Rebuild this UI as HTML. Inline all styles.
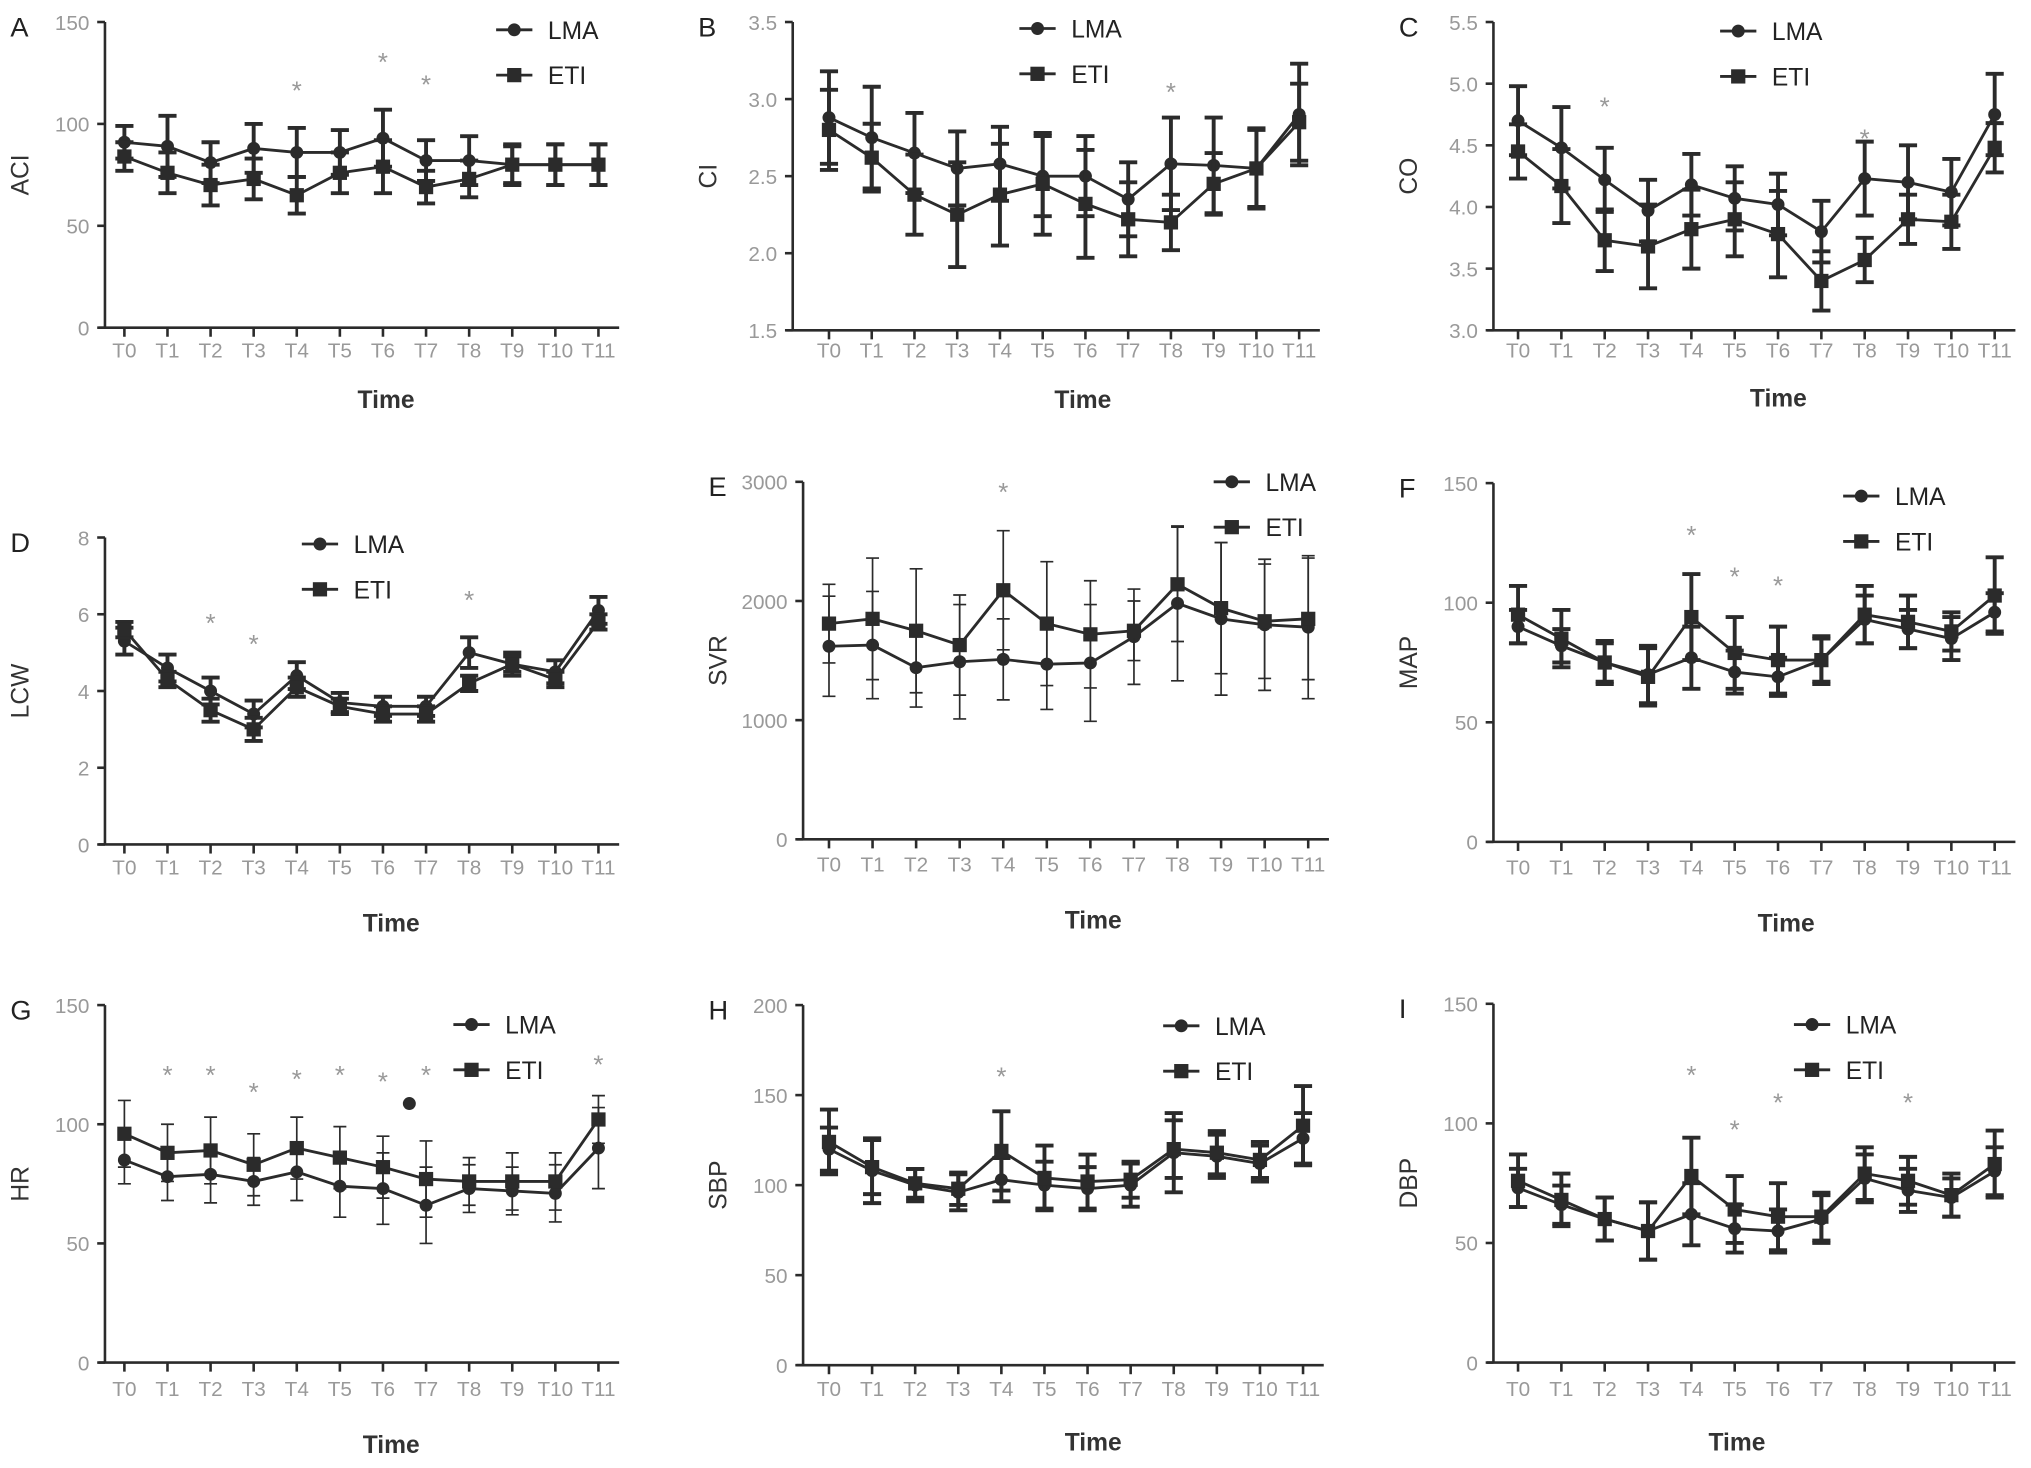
<!DOCTYPE html>
<html><head><meta charset="utf-8"><style>
html,body{margin:0;padding:0;background:#fff;}
svg{display:block;font-family:"Liberation Sans",sans-serif;}
</style></head><body>
<svg id="fig" width="2031" height="1468" viewBox="0 0 1568 1133.4" xmlns="http://www.w3.org/2000/svg"></svg>
<script>
const categories = ["T0","T1","T2","T3","T4","T5","T6","T7","T8","T9","T10","T11"];
const aciLma = [91,89,81,88,86,86,93,82,82,80,80,80];
const aciLmaErr = [8,15,10,12,12,11,14,10,12,9,10,10];
const aciEti = [84,76,70,73,65,76,79,69,73,80,80,80];
const aciEtiErr = [7,10,10,10,9,10,13,8,9,10,10,10];
const aciTicks = [0,50,100,150];
const ciLma = [2.88,2.75,2.65,2.55,2.58,2.5,2.5,2.35,2.58,2.57,2.55,2.9];
const ciLmaErr = [0.3,0.33,0.26,0.24,0.24,0.26,0.26,0.24,0.3,0.31,0.25,0.33];
const ciEti = [2.8,2.62,2.38,2.25,2.38,2.45,2.32,2.22,2.2,2.45,2.55,2.85];
const ciEtiErr = [0.26,0.22,0.26,0.34,0.33,0.33,0.35,0.24,0.18,0.2,0.26,0.25];
const ciTicks = [1.5,2.0,2.5,3.0,3.5];
const coLma = [4.7,4.48,4.22,3.97,4.18,4.07,4.02,3.8,4.23,4.2,4.12,4.75];
const coLmaErr = [0.28,0.33,0.26,0.25,0.25,0.26,0.25,0.25,0.3,0.3,0.27,0.33];
const coEti = [4.45,4.17,3.73,3.68,3.82,3.9,3.78,3.4,3.57,3.9,3.88,4.48];
const coEtiErr = [0.22,0.3,0.25,0.34,0.32,0.3,0.35,0.24,0.18,0.2,0.22,0.2];
const coTicks = [3.0,3.5,4.0,4.5,5.0,5.5];
const lcwLma = [5.3,4.6,4.0,3.4,4.4,3.7,3.6,3.6,5.0,4.7,4.5,6.1];
const lcwLmaErr = [0.35,0.35,0.35,0.35,0.35,0.25,0.25,0.25,0.4,0.3,0.3,0.35];
const lcwEti = [5.6,4.3,3.5,3.0,4.1,3.6,3.4,3.4,4.2,4.7,4.3,5.8];
const lcwEtiErr = [0.2,0.2,0.3,0.3,0.25,0.2,0.2,0.2,0.2,0.2,0.2,0.2];
const lcwTicks = [0,2,4,6,8];
const svrLma = [1620,1630,1440,1490,1510,1470,1480,1700,1980,1850,1800,1780];
const svrLmaErr = [420,450,330,480,340,380,490,400,650,640,550,600];
const svrEti = [1810,1850,1750,1630,2090,1810,1720,1750,2140,1940,1830,1850];
const svrEtiErr = [330,510,520,420,500,520,450,250,480,550,480,510];
const svrTicks = [0,1000,2000,3000];
const mapLma = [90,82,75,70,77,71,69,76,93,89,85,96];
const mapLmaErr = [7,7,8,12,13,9,8,9,10,8,9,8];
const mapEti = [95,85,75,69,94,79,76,76,95,92,88,103];
const mapEtiErr = [12,12,9,12,18,15,14,10,12,11,8,16];
const mapTicks = [0,50,100,150];
const hrLma = [85,78,79,76,80,74,73,66,73,72,71,90];
const hrLmaErr = [10,10,12,10,12,13,15,16,10,10,12,17];
const hrEti = [96,88,89,83,90,86,82,77,76,76,76,102];
const hrEtiErr = [14,12,14,13,13,13,13,16,10,12,12,10];
const hrTicks = [0,50,100,150];
const sbpLma = [120,108,100,96,103,100,98,100,118,116,112,126];
const sbpLmaErr = [12,18,9,10,12,13,12,12,22,12,10,14];
const sbpEti = [124,110,101,98,119,104,102,103,120,118,114,133];
const sbpEtiErr = [18,15,8,9,22,18,15,10,16,12,10,22];
const sbpTicks = [0,50,100,150,200];
const dbpLma = [73,66,60,55,62,56,55,60,77,72,69,80];
const dbpLmaErr = [8,8,9,12,13,10,9,10,10,9,8,10];
const dbpEti = [76,68,60,55,78,64,61,61,79,76,70,83];
const dbpEtiErr = [11,11,9,12,16,14,14,10,11,10,9,14];
const dbpTicks = [0,50,100,150];

const panels = [
 {id:"A",yl:"ACI",lma:aciLma,le:aciLmaErr,eti:aciEti,ee:aciEtiErr,ticks:aciTicks,ax:81,y0:253,y1:17,x0:96,x11:462,lab:276,time:315,tx:298,leg:[383,23],thick:true,stars:[[4,67],[6,45],[7,62]],dec:0},
 {id:"B",yl:"CI",lma:ciLma,le:ciLmaErr,eti:ciEti,ee:ciEtiErr,ticks:ciTicks,ax:612,y0:255,y1:17,x0:640,x11:1003,lab:276,time:315,tx:836,leg:[787,22],thick:true,stars:[[8,68]],dec:1},
 {id:"C",yl:"CO",lma:coLma,le:coLmaErr,eti:coEti,ee:coEtiErr,ticks:coTicks,ax:1153,y0:255,y1:17,x0:1172,x11:1540,lab:276,time:314,tx:1373,leg:[1328,24],thick:true,stars:[[2,79],[8,104]],dec:1},
 {id:"D",yl:"LCW",lma:lcwLma,le:lcwLmaErr,eti:lcwEti,ee:lcwEtiErr,ticks:lcwTicks,ax:81,y0:652,y1:415,x0:96,x11:462,lab:675,time:719,tx:302,leg:[233,420],thick:true,stars:[[2,478],[3,494],[8,460]],dec:0},
 {id:"E",yl:"SVR",lma:svrLma,le:svrLmaErr,eti:svrEti,ee:svrEtiErr,ticks:svrTicks,ax:620,y0:648,y1:372,x0:640,x11:1010,lab:673,time:717,tx:844,leg:[937,372],thick:false,stars:[[4,377]],dec:0},
 {id:"F",yl:"MAP",lma:mapLma,le:mapLmaErr,eti:mapEti,ee:mapEtiErr,ticks:mapTicks,ax:1153,y0:650,y1:373,x0:1172,x11:1540,lab:675,time:719,tx:1379,leg:[1423,383],thick:true,stars:[[4,410],[5,442],[6,449]],dec:0},
 {id:"G",yl:"HR",lma:hrLma,le:hrLmaErr,eti:hrEti,ee:hrEtiErr,ticks:hrTicks,ax:81,y0:1052,y1:776,x0:96,x11:462,lab:1078,time:1122,tx:302,leg:[350,791],thick:false,stars:[[1,827],[2,827],[3,840],[4,830],[5,827],[6,832],[7,827],[11,819]],dec:0},
 {id:"H",yl:"SBP",lma:sbpLma,le:sbpLmaErr,eti:sbpEti,ee:sbpEtiErr,ticks:sbpTicks,ax:620,y0:1054,y1:776,x0:640,x11:1006,lab:1078,time:1120,tx:844,leg:[898,792],thick:true,stars:[[4,828]],dec:0},
 {id:"I",yl:"DBP",lma:dbpLma,le:dbpLmaErr,eti:dbpEti,ee:dbpEtiErr,ticks:dbpTicks,ax:1153,y0:1052,y1:775,x0:1172,x11:1540,lab:1078,time:1120,tx:1341,leg:[1385,791],thick:true,stars:[[4,827],[5,869],[6,848],[9,848]],dec:0}
];
const NS="http://www.w3.org/2000/svg";
const svg=document.getElementById("fig");
const C="#2b2b2b";
function mk(tag,attrs,parent,txt){const e=document.createElementNS(NS,tag);for(const k in attrs)e.setAttribute(k,attrs[k]);if(txt!==undefined)e.textContent=txt;parent.appendChild(e);return e;}
panels.forEach(p=>{
 const g=mk("g",{},svg);
 
 
 const tmin=p.ticks[0],tmax=p.ticks[p.ticks.length-1];
 const ys=v=>p.y0-(v-tmin)/(tmax-tmin)*(p.y0-p.y1);
 const xs=i=>p.x0+i*(p.x11-p.x0)/(categories.length-1);
 const t1=mk("text",{x:p.ax-73,y:p.y1+11,"font-size":21,fill:"#222"},g,p.id);
 
 
 const ya=mk("line",{x1:p.ax,y1:p.y1,x2:p.ax,y2:p.y0,stroke:C,"stroke-width":2},g);
 
 
 const xa=mk("line",{x1:p.ax-5,y1:p.y0,x2:p.x11+16,y2:p.y0,stroke:C,"stroke-width":2},g);
 
 
 p.ticks.forEach(t=>{
  mk("line",{x1:p.ax-6,y1:ys(t),x2:p.ax,y2:ys(t),stroke:C,"stroke-width":2},g);
  const tl=mk("text",{x:p.ax-12,y:ys(t)+6,"font-size":16,fill:"#999","text-anchor":"end"},g,p.dec?t.toFixed(1):String(t));
  
  
 });
 categories.forEach((c,i)=>{
  mk("line",{x1:xs(i),y1:p.y0,x2:xs(i),y2:p.y0+7,stroke:C,"stroke-width":2},g);
  const tl=mk("text",{x:xs(i),y:p.lab,"font-size":16,fill:"#999","text-anchor":"middle"},g,c);
  
  
 });
 const tt=mk("text",{x:p.tx,y:p.time,"font-size":19,"font-weight":"bold",fill:"#333","text-anchor":"middle"},g,"Time");
 
 
 const ymid=(p.y0+p.y1)/2;
 const yt=mk("text",{x:0,y:0,"font-size":19,fill:"#333","text-anchor":"middle",transform:`translate(${p.ax-59},${ymid}) rotate(-90)`},g,p.yl);
 
 
 const ew=p.thick?3:1.3, cw=p.thick?7:5;
 [[p.lma,p.le,"lma"],[p.eti,p.ee,"eti"]].forEach(([vals,errs,nm])=>{
  vals.forEach((v,i)=>{
   const x=xs(i),a=ys(v+errs[i]),b=ys(v-errs[i]);
   const eb=mk("path",{d:`M${x},${a}V${b}M${x-cw},${a}H${x+cw}M${x-cw},${b}H${x+cw}`,stroke:C,"stroke-width":ew,fill:"none"},g);
   
   
  });
  const ln=mk("polyline",{points:vals.map((v,i)=>xs(i)+","+ys(v)).join(" "),stroke:C,"stroke-width":2.2,fill:"none"},g);
  
  
  vals.forEach((v,i)=>{
   let m;
   if(nm==="lma") m=mk("circle",{cx:xs(i),cy:ys(v),r:5,fill:C},g);
   else m=mk("rect",{x:xs(i)-5.5,y:ys(v)-5.5,width:11,height:11,fill:C},g);
   
   
  });
 });
 p.stars.forEach(([i,y])=>{
  const s=mk("text",{x:xs(i),y:y+10,"font-size":20,fill:"#999","text-anchor":"middle"},g,"*");
  
  
 });
 const [lx,ly]=p.leg;
 [["LMA",0],["ETI",35]].forEach(([nm,dy])=>{
  const lg=mk("g",{},g);
  
  
  mk("line",{x1:lx,y1:ly+dy,x2:lx+28,y2:ly+dy,stroke:C,"stroke-width":2.2},lg);
  if(nm==="LMA") mk("circle",{cx:lx+14,cy:ly+dy,r:5,fill:C},lg);
  else mk("rect",{x:lx+8.5,y:ly+dy-5.5,width:11,height:11,fill:C},lg);
  mk("text",{x:lx+40,y:ly+dy+7,"font-size":19,fill:"#222"},lg,nm);
 });
});
const dot=mk("circle",{cx:316,cy:852,r:5,fill:C},svg);


</script>
</body></html>
